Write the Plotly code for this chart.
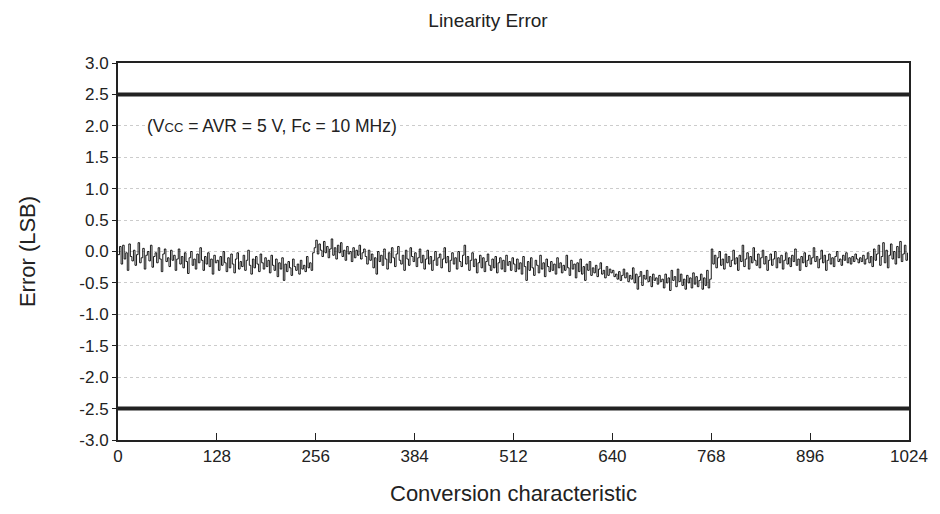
"""
Linearity error plot (ADC conversion characteristic)
"""

import plotly.graph_objects as go

# output code step (every 2nd code is plotted)
code_step = 2

# linearity error in LSB, one value per 2 codes
error_lsb = [
    # 0-63
    -0.05, 0.08, -0.20, 0.10, -0.12, -0.02, -0.30, 0.12, -0.08, -0.15, 0.02, -0.22, -0.05, 0.14, -0.18, -0.10,
    0.05, -0.28, -0.06, 0.00, -0.15, 0.10, -0.25, -0.08, -0.02, -0.18, 0.06, -0.12, -0.32, -0.04, 0.04, -0.16,
    # 64-127
    -0.10, -0.24, 0.02, -0.14, -0.06, -0.30, -0.12, 0.04, -0.20, -0.08, -0.26, -0.02, -0.16, -0.35, -0.10, 0.00,
    -0.22, -0.12, -0.28, -0.04, -0.18, 0.06, -0.14, -0.30, -0.08, -0.20, -0.02, -0.24, -0.12, -0.36, -0.06, -0.18,
    # 128-191
    -0.14, -0.30, -0.08, -0.22, 0.00, -0.18, -0.32, -0.10, -0.26, -0.04, -0.20, -0.34, -0.12, -0.02, -0.28, -0.16,
    -0.24, -0.06, -0.30, -0.14, 0.02, -0.22, -0.36, -0.12, -0.26, -0.08, -0.20, -0.32, -0.04, -0.18, -0.28, -0.10,
    # 192-255
    -0.24, -0.14, -0.34, -0.06, -0.22, -0.30, -0.12, -0.40, -0.18, -0.28, -0.10, -0.46, -0.20, -0.32, -0.16, -0.26,
    -0.38, -0.12, -0.24, -0.30, -0.20, -0.36, -0.14, -0.28, -0.22, -0.32, -0.08, -0.26, -0.18, -0.30, -0.02, 0.06,
    # 256-319
    0.18, -0.04, 0.12, 0.02, -0.08, 0.16, -0.02, 0.08, -0.10, 0.04, 0.20, -0.06, 0.06, -0.12, 0.10, -0.02,
    0.14, -0.08, 0.02, -0.14, 0.08, -0.04, 0.00, -0.16, 0.06, -0.10, 0.02, -0.06, 0.10, -0.12, -0.02, 0.04,
    # 320-383
    -0.08, -0.20, 0.02, -0.14, -0.04, -0.26, -0.10, -0.36, 0.00, -0.16, -0.06, -0.22, 0.04, -0.12, -0.28, -0.02,
    -0.18, 0.06, -0.10, -0.24, -0.04, 0.08, -0.14, -0.20, -0.06, -0.30, 0.02, -0.12, -0.22, 0.06, -0.08, -0.16,
    # 384-447
    -0.02, -0.24, -0.10, 0.04, -0.18, -0.06, -0.28, -0.12, 0.02, -0.20, -0.08, -0.30, -0.14, 0.00, -0.22, -0.10,
    -0.04, -0.26, -0.12, 0.06, -0.18, -0.08, -0.32, -0.14, -0.02, -0.20, -0.10, -0.28, 0.00, -0.16, -0.24, -0.06,
    # 448-511
    0.10, -0.20, -0.08, -0.30, -0.14, -0.02, -0.24, -0.12, -0.34, -0.18, -0.06, -0.26, -0.10, -0.32, -0.16, -0.04,
    -0.22, -0.30, -0.12, -0.26, -0.08, -0.34, -0.18, -0.10, -0.28, -0.14, -0.32, -0.06, -0.22, -0.16, -0.30, -0.10,
    # 512-575
    -0.20, -0.32, -0.12, -0.28, -0.18, -0.36, -0.08, -0.24, -0.46, -0.16, -0.30, -0.10, -0.26, -0.38, -0.14, -0.22,
    -0.34, -0.06, -0.28, -0.18, -0.40, -0.12, -0.24, -0.32, -0.16, -0.30, -0.20, -0.36, -0.10, -0.26, -0.18, -0.34,
    # 576-639
    -0.22, -0.30, -0.06, -0.26, -0.38, -0.14, -0.28, -0.20, -0.42, -0.18, -0.32, -0.12, -0.36, -0.24, -0.46, -0.20,
    -0.30, -0.16, -0.38, -0.26, -0.34, -0.22, -0.40, -0.28, -0.18, -0.36, -0.30, -0.42, -0.24, -0.38, -0.28, -0.34,
    # 640-703
    -0.30, -0.40, -0.36, -0.44, -0.32, -0.46, -0.38, -0.28, -0.42, -0.34, -0.48, -0.38, -0.44, -0.26, -0.50, -0.36,
    -0.60, -0.40, -0.32, -0.54, -0.38, -0.44, -0.30, -0.48, -0.40, -0.56, -0.36, -0.46, -0.42, -0.52, -0.38, -0.48,
    # 704-767
    -0.44, -0.58, -0.36, -0.50, -0.42, -0.62, -0.30, -0.46, -0.40, -0.56, -0.28, -0.48, -0.36, -0.54, -0.44, -0.60,
    -0.38, -0.50, -0.42, -0.58, -0.34, -0.52, -0.40, -0.56, -0.46, -0.36, -0.60, -0.42, -0.54, -0.30, -0.58, -0.44,
    # 768-831
    0.04, -0.20, -0.06, -0.26, -0.10, 0.00, -0.22, -0.12, -0.28, -0.04, -0.18, -0.08, -0.24, -0.14, 0.02, -0.20,
    -0.10, -0.30, -0.06, -0.16, 0.10, -0.24, -0.12, -0.02, -0.28, -0.08, -0.18, 0.06, -0.14, -0.22, -0.04, -0.26,
    # 832-895
    -0.10, 0.02, -0.20, -0.08, -0.30, -0.14, -0.04, -0.22, -0.12, 0.00, -0.26, -0.10, -0.18, -0.06, -0.28, -0.14,
    -0.02, -0.20, -0.10, -0.24, -0.06, -0.16, 0.04, -0.22, -0.12, -0.30, -0.08, -0.18, -0.02, -0.24, -0.14, -0.06,
    # 896-959
    -0.20, -0.10, 0.06, -0.16, -0.08, -0.26, -0.12, 0.02, -0.18, -0.06, -0.30, -0.14, -0.04, -0.20, -0.10, -0.24,
    -0.08, 0.00, -0.16, -0.12, -0.22, -0.06, -0.14, -0.02, -0.18, -0.10, -0.20, -0.08, -0.16, -0.04, -0.12, -0.18,
    # 960-1023
    -0.10, -0.16, -0.06, -0.20, -0.12, -0.02, -0.18, -0.08, -0.24, 0.04, -0.14, -0.04, 0.10, -0.22, -0.08, 0.14,
    -0.18, 0.02, -0.26, -0.06, 0.12, -0.12, 0.00, -0.20, 0.08, -0.10, 0.16, -0.16, -0.04, 0.10, -0.14, -0.02,
]
codes = [i * code_step for i in range(len(error_lsb))]

# spec limits (LSB)
limits = [2.5, -2.5]

x_ticks = [0, 128, 256, 384, 512, 640, 768, 896, 1024]
y_ticks = [3.0, 2.5, 2.0, 1.5, 1.0, 0.5, 0.0, -0.5, -1.0, -1.5, -2.0, -2.5, -3.0]
y_labels = ["%.1f" % v for v in y_ticks]

FONT = "Arial, Liberation Sans, sans-serif"
INK = "#222222"

fig = go.Figure()

# limit lines
for lim in limits:
    fig.add_trace(go.Scatter(x=[-8, 1024], y=[lim, lim], mode="lines",
                             line=dict(color=INK, width=4), cliponaxis=False,
                             showlegend=False, hoverinfo="skip"))

fig.add_trace(go.Scatter(x=codes, y=error_lsb, mode="lines",
                         line=dict(color="#000000", width=0.9, shape="hv"),
                         showlegend=False))

fig.add_annotation(x=35, y=2.0, xanchor="left", yanchor="middle",
                   text="(V<span style='font-size:13px'>CC</span> = AVR = 5 V, Fc = 10 MHz)",
                   showarrow=False, bgcolor="white",
                   font=dict(family=FONT, size=17.5, color=INK))

# the page body has an 8px margin, so the figure is sized to fit inside it
fig.update_layout(
    width=932, height=506,
    margin=dict(l=110, r=29, t=55, b=73),
    paper_bgcolor="white", plot_bgcolor="white",
    font=dict(family=FONT, color=INK),
    title=dict(text="Linearity Error", x=0.515, xanchor="center",
               y=0.976, yref="container", yanchor="middle",
               font=dict(size=19, color=INK)),
)

fig.update_xaxes(
    range=[0, 1024], tickvals=x_ticks, ticks="inside", ticklen=7,
    tickcolor=INK, showgrid=False, zeroline=False,
    showline=True, mirror=True, linecolor=INK, linewidth=2,
    tickfont=dict(size=17, color=INK),
    title=dict(text="Conversion characteristic", font=dict(size=22, color=INK), standoff=20),
)
fig.update_yaxes(
    range=[-3, 3], tickvals=y_ticks, ticktext=y_labels, ticks="outside", ticklen=4,
    tickcolor=INK, showgrid=True, gridcolor="#cccccc", griddash="3px,3px", gridwidth=1,
    zeroline=False, showline=True, mirror=True, linecolor=INK, linewidth=2,
    tickfont=dict(size=17, color=INK),
    title=dict(text="Error (LSB)", font=dict(size=22, color=INK), standoff=38),
)

fig.write_html("out.html")
